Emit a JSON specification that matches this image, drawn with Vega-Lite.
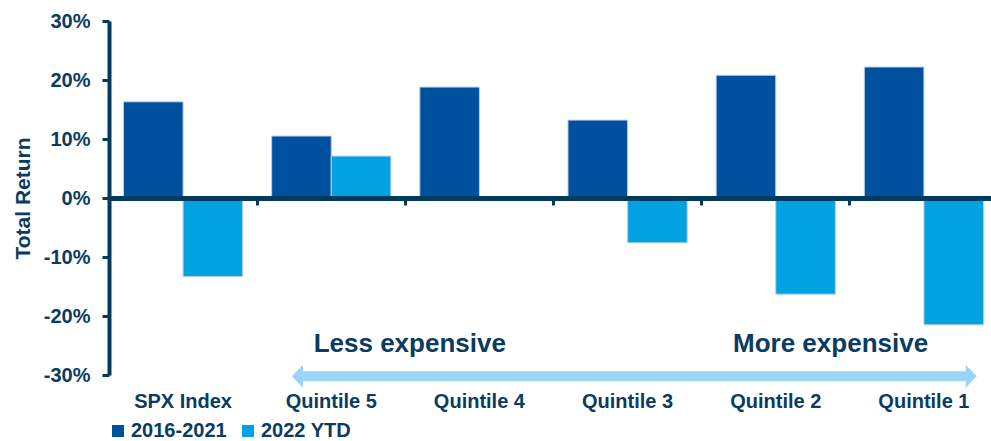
{
  "$schema": "https://vega.github.io/schema/vega-lite/v6.json",
  "autosize": "none",
  "width": 880,
  "height": 354,
  "padding": {"left": 109, "top": 21, "right": 2, "bottom": 66},
  "config": {
    "view": {"stroke": null},
    "font": "Liberation Sans",
    "text": {"font": "Liberation Sans"}
  },
  "datasets": {
    "returns": [
      {"category": "SPX Index", "series": "2016-2021", "value": 16.3},
      {"category": "SPX Index", "series": "2022 YTD", "value": -13.3},
      {"category": "Quintile 5", "series": "2016-2021", "value": 10.5},
      {"category": "Quintile 5", "series": "2022 YTD", "value": 7.1},
      {"category": "Quintile 4", "series": "2016-2021", "value": 18.8},
      {"category": "Quintile 4", "series": "2022 YTD", "value": 0.0},
      {"category": "Quintile 3", "series": "2016-2021", "value": 13.2},
      {"category": "Quintile 3", "series": "2022 YTD", "value": -7.6},
      {"category": "Quintile 2", "series": "2016-2021", "value": 20.8},
      {"category": "Quintile 2", "series": "2022 YTD", "value": -16.3},
      {"category": "Quintile 1", "series": "2016-2021", "value": 22.2},
      {"category": "Quintile 1", "series": "2022 YTD", "value": -21.5}
    ],
    "arrow": [{"from": 1.272, "to": 5.819, "y": -30.2}],
    "heads": [
      {"pos": 1.272, "y": -30.2, "dir": "left"},
      {"pos": 5.819, "y": -30.2, "dir": "right"}
    ],
    "labels": [
      {"pos": 2.03, "y": -26.1, "label": "Less expensive"},
      {"pos": 4.87, "y": -26.1, "label": "More expensive"}
    ]
  },
  "resolve": {"scale": {"x": "independent"}, "axis": {"x": "independent"}},
  "layer": [
    {
      "data": {"name": "returns"},
      "mark": {"type": "bar", "stroke": "#b8d0ec", "strokeWidth": 1},
      "encoding": {
        "x": {
          "field": "category",
          "type": "nominal",
          "sort": ["SPX Index", "Quintile 5", "Quintile 4", "Quintile 3", "Quintile 2", "Quintile 1"],
          "scale": {"range": [0, 889], "paddingInner": 0, "paddingOuter": 0},
          "axis": {
            "orient": "bottom",
            "title": null,
            "offset": -177,
            "zindex": 1,
            "domain": true,
            "domainColor": "#003a5d",
            "domainWidth": 5,
            "ticks": true,
            "bandPosition": 0,
            "tickColor": "#003a5d",
            "tickWidth": 3,
            "tickSize": 7,
            "labelPadding": 186,
            "labelAngle": 0,
            "labelFont": "Liberation Sans",
            "labelFontSize": 20,
            "labelFontWeight": "bold",
            "labelColor": "#0b3b60",
            "labelOverlap": false
          }
        },
        "xOffset": {
          "field": "series",
          "type": "nominal",
          "scale": {"paddingInner": 0, "paddingOuter": 0.243}
        },
        "y": {
          "field": "value",
          "type": "quantitative",
          "scale": {"domain": [-30, 30], "nice": false, "zero": false},
          "axis": {
            "title": "Total Return",
            "titleFont": "Liberation Sans",
            "titleFontSize": 21,
            "titleFontWeight": "bold",
            "titleColor": "#0b3b60",
            "titlePadding": 10,
            "values": [-30, -20, -10, 0, 10, 20, 30],
            "labelExpr": "datum.value + '%'",
            "labelFont": "Liberation Sans",
            "labelFontSize": 20,
            "labelFontWeight": "bold",
            "labelColor": "#0b3b60",
            "labelPadding": 12,
            "grid": false,
            "domainColor": "#003a5d",
            "domainWidth": 4,
            "tickColor": "#003a5d",
            "tickWidth": 3,
            "tickSize": 7,
            "zindex": 1
          }
        },
        "color": {
          "field": "series",
          "type": "nominal",
          "scale": {"domain": ["2016-2021", "2022 YTD"], "range": ["#0050a0", "#00a2e1"]},
          "legend": {
            "orient": "none",
            "legendX": -1,
            "legendY": 400,
            "direction": "horizontal",
            "title": null,
            "padding": 0,
            "symbolType": "square",
            "symbolSize": 144,
            "symbolStrokeWidth": 0,
            "labelFont": "Liberation Sans",
            "labelFontSize": 20,
            "labelFontWeight": "bold",
            "labelColor": "#0b3b60",
            "labelOffset": 3,
            "columnPadding": 11
          }
        }
      }
    },
    {
      "layer": [
        {
          "data": {"name": "arrow"},
          "mark": {"type": "rule", "color": "#9ad4f7", "strokeWidth": 10, "strokeCap": "butt"},
          "encoding": {
            "x": {"field": "from", "type": "quantitative", "scale": {"domain": [0, 6], "range": [0, 889], "nice": false, "zero": false}, "axis": null},
            "x2": {"field": "to"},
            "y": {"field": "y", "type": "quantitative"}
          }
        },
        {
          "data": {"name": "heads"},
          "mark": {"type": "point", "filled": true, "opacity": 1, "size": 529, "color": "#9ad4f7", "strokeWidth": 0},
          "encoding": {
            "x": {"field": "pos", "type": "quantitative", "axis": null},
            "y": {"field": "y", "type": "quantitative"},
            "shape": {
              "field": "dir",
              "type": "nominal",
              "scale": {"domain": ["left", "right"], "range": ["M -0.48 0 L 0.48 -1 L 0.48 1 Z", "M 0.48 0 L -0.48 -1 L -0.48 1 Z"]},
              "legend": null
            }
          }
        },
        {
          "data": {"name": "labels"},
          "mark": {"type": "text", "font": "Liberation Sans", "fontSize": 26, "fontWeight": "bold", "color": "#0b3b60", "align": "center", "baseline": "alphabetic"},
          "encoding": {
            "x": {"field": "pos", "type": "quantitative", "axis": null},
            "y": {"field": "y", "type": "quantitative"},
            "text": {"field": "label"}
          }
        }
      ]
    }
  ]
}
